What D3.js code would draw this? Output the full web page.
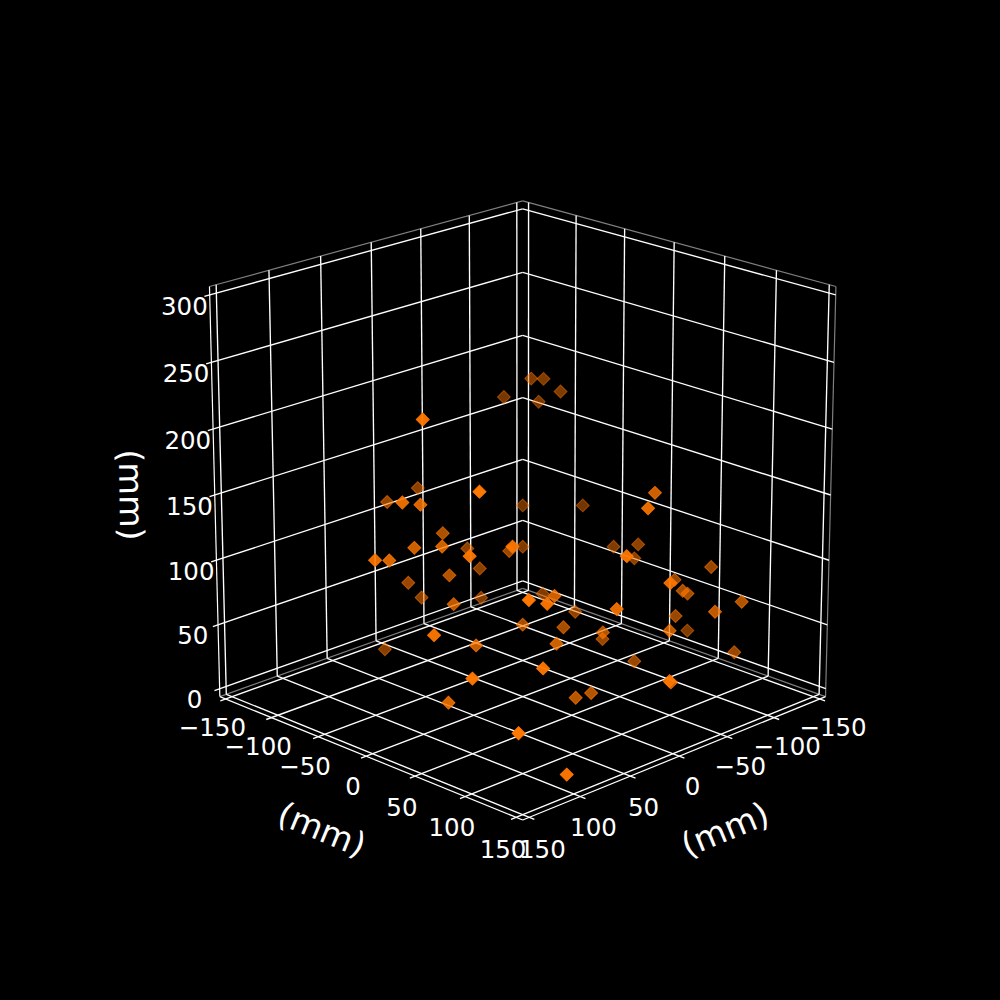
<!DOCTYPE html>
<html>
<head>
<meta charset="utf-8">
<title>3D scatter</title>
<script src="https://cdn.jsdelivr.net/npm/d3@7"></script>
<style>
  html, body { margin: 0; padding: 0; background: #000; }
  text { font-family: "DejaVu Sans", sans-serif; fill: #fff; }
</style>
</head>
<body>
<div id="chart"></div>
<script>
// point values (mm)
var xValues = [-112,-118,-125,-107,-124,107,-15,20,114,89,109,-102,-134,24,68,82,137,114,-30,107,84,-35,-77,-33,35,23,3,55,-46,23,135,61,136,109,130,103,90,-1,-17,103,77,20,-79,-75,-11,-32,27,-34,-68,-80,0,-24,-134,-149,-50,-48,-7,-120,-125,30,-116,-137,-116,-5,-100,-102,-110,-76,-110,26];
var yValues = [-103,-96,-85,-127,-107,9,-125,-121,-5,-13,67,-102,-70,-58,-13,-27,-9,-19,-88,55,74,-49,-77,-78,-40,-96,-103,-15,-90,-122,48,14,87,35,126,146,110,53,53,109,101,52,-58,-20,-11,10,61,48,15,36,146,125,86,25,99,85,117,1,-29,132,1,59,42,141,65,68,114,119,49,119];
var zValues = [188,188,179,169,166,235,120,119,172,162,197,90,90,112,125,124,134,125,78,146,152,85,70,64,87,63,44,77,34,3,93,55,72,31,41,8,73,8,7,127,115,92,37,34,44,42,60,48,24,9,48,34,15,11,59,161,168,81,70,146,71,74,65,119,67,65,69,72,40,102];

// axis ticks
var xyTicks = [-150,-100,-50,0,50,100,150];
var zTicks = [0,50,100,150,200,250,300];
var axisLabel = "(mm)";

var svgWidth = 1000;
var svgHeight = 1000;

// view, like a matplotlib 3d axes with azim 45
var elev = 19.7 * Math.PI / 180;
var azim = 45 * Math.PI / 180;
var dist = 20;

// limits are the ticks plus the 1/48 margin
var xyMin = -156.25, xyMax = 156.25;
var zMin = -6.25, zMax = 306.25;
var tickOut = 5;

var xScale = d3.scaleLinear().domain([xyMin, xyMax]).range([-1, 1]);
var yScale = d3.scaleLinear().domain([xyMin, xyMax]).range([-1, 1]);
var zScale = d3.scaleLinear().domain([zMin, zMax]).range([-1, 1]);

// picture plane to pixels
var screenX = d3.scaleLinear().domain([-1, 1]).range([522.7 - 4355, 522.7 + 4355]);
var screenY = d3.scaleLinear().domain([-1, 1]).range([495 + 4355, 495 - 4355]);

// how far tick labels sit below their tick
var xyDrop = d3.scaleLinear().domain([-150, 150]).range([26.5, 29.5]);
var zDrop = d3.scaleLinear().domain([0, 300]).range([8.5, 9.5]);

function project(x, y, z) {
  var u = xScale(x), v = yScale(y), w = zScale(z);
  var right = -u * Math.sin(azim) + v * Math.cos(azim);
  var along = u * Math.cos(azim) + v * Math.sin(azim);
  var up = -along * Math.sin(elev) + w * Math.cos(elev);
  var depth = along * Math.cos(elev) + w * Math.sin(elev);
  var d = dist - depth;
  return { px: screenX(right / d), py: screenY(up / d), depth: depth };
}

var svg = d3.select("#chart")
  .append("svg")
  .attr("width", svgWidth)
  .attr("height", svgHeight)
  .style("display", "block")
  .style("background", "#000");

var line = d3.line().x(d => d.px).y(d => d.py);

// draws one 3d segment
function segment(group, a, b, color, width) {
  group.append("path")
    .attr("d", line([project(a[0], a[1], a[2]), project(b[0], b[1], b[2])]))
    .attr("fill", "none")
    .attr("stroke", color)
    .attr("stroke-width", width);
}

// pane edges
var edges = svg.append("g").attr("class", "edges");
var paneGray = "#7f7f7f";
segment(edges, [xyMax, xyMin, zMax], [xyMin, xyMin, zMax], paneGray, 1.2);
segment(edges, [xyMin, xyMin, zMax], [xyMin, xyMax, zMax], paneGray, 1.2);
segment(edges, [xyMin, xyMax, zMax], [xyMin, xyMax, zMin], paneGray, 1.2);
segment(edges, [xyMax, xyMin, zMin], [xyMin, xyMin, zMin], paneGray, 1.2);
segment(edges, [xyMin, xyMin, zMin], [xyMin, xyMax, zMin], paneGray, 1.2);

// grid lines on the floor and on both back walls, ticks stick out at the near end
var grid = svg.append("g").attr("class", "grid");
xyTicks.forEach(function(t) {
  segment(grid, [t, xyMin, zMin], [t, xyMax + tickOut, zMin], "#fff", 1.35);
  segment(grid, [xyMin, t, zMin], [xyMax + tickOut, t, zMin], "#fff", 1.35);
  segment(grid, [t, xyMin, zMin], [t, xyMin, zMax], "#fff", 1.35);
  segment(grid, [xyMin, t, zMin], [xyMin, t, zMax], "#fff", 1.35);
});
zTicks.forEach(function(t) {
  segment(grid, [xyMax + tickOut, xyMin, t], [xyMin, xyMin, t], "#fff", 1.35);
  segment(grid, [xyMin, xyMin, t], [xyMin, xyMax, t], "#fff", 1.35);
});

// axis lines
var axes = svg.append("g").attr("class", "axes");
segment(axes, [xyMin, xyMax, zMin], [xyMax, xyMax, zMin], "#fff", 1.2);
segment(axes, [xyMax, xyMin, zMin], [xyMax, xyMax, zMin], "#fff", 1.2);
segment(axes, [xyMax, xyMin, zMin], [xyMax, xyMin, zMax], "#fff", 1.2);

// points, far ones first, faded by depth
var points = xValues.map(function(x, i) {
  return project(x, yValues[i], zValues[i]);
}).sort((a, b) => a.depth - b.depth);

var shade = d3.scaleLinear()
  .domain(d3.extent(points, d => d.depth))
  .range([0.45, 1]);

var diamond = d3.symbol().type(d3.symbolSquare).size(84);

svg.append("g").attr("class", "points")
  .selectAll("path")
  .data(points)
  .enter()
  .append("path")
  .attr("d", diamond)
  .attr("transform", d => `translate(${d.px}, ${d.py}) rotate(45)`)
  .attr("fill", "#ff7700")
  .attr("stroke", "#ff7700")
  .attr("stroke-width", 1)
  .attr("fill-opacity", d => shade(d.depth))
  .attr("stroke-opacity", d => shade(d.depth));

function tickText(v) {
  return d3.format("d")(v).replace("-", "\u2212");
}

// tick labels, placed off the end of each tick
var labels = svg.append("g").attr("class", "tick-labels")
  .attr("font-size", 24.5)
  .attr("text-anchor", "middle");

xyTicks.forEach(function(t) {
  var py = project(xyMax + tickOut, t, zMin);
  labels.append("text")
    .attr("x", py.px - 8)
    .attr("y", py.py + xyDrop(t) + 8.9)
    .text(tickText(t));
  var px = project(t, xyMax + tickOut, zMin);
  labels.append("text")
    .attr("x", px.px + 8)
    .attr("y", px.py + xyDrop(t) + 8.9)
    .text(tickText(t));
});

zTicks.forEach(function(t) {
  var pz = project(xyMax + tickOut, xyMin, t);
  labels.append("text")
    .attr("x", pz.px - 20)
    .attr("y", pz.py + zDrop(t) + 8.9)
    .text(tickText(t));
});

// axis titles
var titles = svg.append("g").attr("class", "axis-titles")
  .attr("font-size", 33.5)
  .attr("text-anchor", "middle")
  .attr("dominant-baseline", "central");

titles.append("text")
  .attr("transform", "translate(322, 829.5) rotate(22.4)")
  .text(axisLabel);
titles.append("text")
  .attr("transform", "translate(725, 829.5) rotate(-22.4)")
  .text(axisLabel);
titles.append("text")
  .attr("transform", "translate(131, 495) rotate(89)")
  .text(axisLabel);
</script>
</body>
</html>
